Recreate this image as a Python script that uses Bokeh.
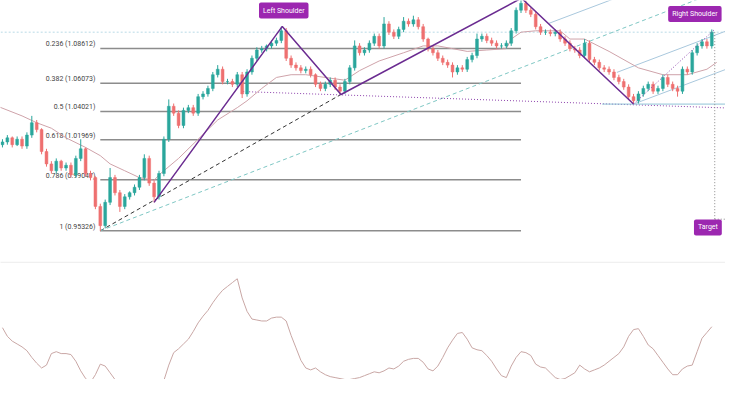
from bokeh.plotting import figure
from bokeh.models import Range1d, Label, ColumnDataSource
from bokeh.embed import file_html
from bokeh.resources import INLINE
from bokeh.core.properties import value

# ---------------- data ----------------
first_open = 1.016
close = [1.018, 1.021, 1.016, 1.020, 1.015, 1.023, 1.032, 1.027, 1.011, 1.002,
         0.997, 1.004, 0.999, 1.001, 0.994, 1.006, 1.013, 0.995, 0.992, 0.971,
         0.957, 0.974, 0.992, 0.981, 0.971, 0.978, 0.981, 0.985, 0.992, 1.006,
         0.988, 0.978, 0.995, 1.020, 1.044, 1.039, 1.030, 1.041, 1.043, 1.039,
         1.051, 1.053, 1.057, 1.067, 1.071, 1.062, 1.062, 1.060, 1.067, 1.053,
         1.069, 1.079, 1.085, 1.086, 1.088, 1.090, 1.092, 1.099, 1.079, 1.074,
         1.072, 1.070, 1.071, 1.067, 1.060, 1.057, 1.060, 1.063, 1.058, 1.055,
         1.062, 1.072, 1.088, 1.083, 1.085, 1.090, 1.095, 1.088, 1.104, 1.098,
         1.095, 1.100, 1.106, 1.104, 1.107, 1.102, 1.093, 1.086, 1.083, 1.079,
         1.076, 1.074, 1.069, 1.072, 1.071, 1.078, 1.081, 1.093, 1.095, 1.092,
         1.090, 1.088, 1.088, 1.090, 1.099, 1.114, 1.119, 1.114, 1.111, 1.102,
         1.098, 1.098, 1.097, 1.098, 1.093, 1.090, 1.086, 1.085, 1.081, 1.090,
         1.078, 1.076, 1.072, 1.071, 1.069, 1.065, 1.062, 1.058, 1.051, 1.048,
         1.053, 1.057, 1.060, 1.055, 1.057, 1.065, 1.060, 1.057, 1.055, 1.071,
         1.069, 1.083, 1.088, 1.091, 1.088, 1.098]
# wick lengths in thousandths
upper_wick = [2, 2, 1, 2, 2, 2, 5, 2, 1, 2,
              2, 2, 1, 2, 2, 2, 7, 1, 2, 1,
              2, 2, 7, 2, 2, 2, 1, 2, 2, 3,
              2, 2, 2, 2, 5, 2, 2, 2, 2, 2,
              2, 2, 2, 2, 3, 2, 2, 2, 2, 2,
              2, 2, 2, 2, 1, 2, 2, 3, 2, 2,
              2, 2, 2, 2, 1, 2, 2, 2, 2, 2,
              2, 2, 4, 2, 2, 2, 2, 2, 5, 2,
              2, 2, 3, 2, 3, 2, 2, 1, 2, 2,
              2, 2, 2, 2, 2, 2, 2, 4, 2, 2,
              2, 2, 2, 2, 2, 2, 3, 2, 2, 2,
              2, 2, 2, 2, 2, 2, 2, 2, 2, 3,
              2, 2, 2, 2, 2, 2, 2, 2, 2, 2,
              2, 2, 2, 2, 2, 2, 2, 2, 2, 2,
              2, 2, 2, 2, 2, 2]
lower_wick = [2, 2, 2, 1, 2, 2, 2, 2, 2, 2,
              2, 2, 2, 2, 2, 2, 2, 2, 2, 2,
              4, 2, 2, 2, 4, 2, 2, 2, 2, 2,
              2, 4, 2, 2, 2, 2, 2, 2, 2, 2,
              2, 2, 2, 2, 2, 2, 2, 2, 2, 3,
              2, 2, 2, 2, 2, 2, 2, 2, 2, 2,
              2, 2, 2, 2, 2, 2, 2, 2, 2, 2,
              2, 2, 2, 2, 2, 2, 2, 2, 2, 2,
              2, 2, 2, 2, 2, 2, 2, 2, 2, 2,
              2, 2, 4, 2, 2, 2, 2, 2, 2, 2,
              2, 2, 2, 2, 2, 2, 2, 2, 2, 2,
              2, 2, 2, 2, 2, 2, 2, 2, 2, 2,
              2, 2, 2, 2, 2, 2, 2, 2, 2, 2,
              2, 2, 2, 2, 2, 2, 2, 2, 4, 2,
              2, 2, 2, 2, 2, 2]

osc = [57, 52.5, 50, 48.5, 47, 45, 41.5, 38.5, 36, 37.5,
       43.5, 44.5, 43.5, 43.5, 43, 39.5, 34.5, 30.5, 28.5, 32.5,
       38, 37, 33.5, 30, 27.5, 25.5, 24.5, 24.5, 25, 25.5,
       26, 26.5, 27.5, 29.5, 37.5, 44, 46, 48.5, 51, 55,
       59.5, 63, 66, 70, 73.5, 76.5, 78.5, 80.5, 82.5, 72.5,
       65.5, 61.5, 61, 60.5, 60.5, 62, 62.5, 62.5, 60.5, 53,
       46.5, 40, 36, 35, 36, 34, 32.5, 31.5, 31, 30.5,
       30, 30, 30.5, 31, 32, 33, 34, 33.5, 34.5, 36,
       35.5, 37, 39.5, 40.5, 41, 41, 39, 35.5, 34.5, 37,
       41.5, 46.5, 50.5, 54, 54.5, 51, 46.5, 45.5, 45, 42.5,
       39.5, 35.5, 32, 31, 37, 41.5, 44.5, 44, 42.5, 38,
       36.5, 36, 33.5, 31, 30, 30.5, 32, 33.5, 37.5, 35.5,
       34, 35, 36, 37.5, 39.5, 41.5, 43.5, 47, 52.5, 56,
       56.5, 52.5, 48, 46, 42.5, 39, 35.5, 32.5, 32.5, 35.5,
       37, 37.5, 44.5, 51.5, 54.5, 57.5]

ma_x = [-1, 4, 7, 10, 13, 17, 20, 22, 25, 28, 31, 32, 36, 40, 44, 48, 50, 53, 56,
        59, 62, 66, 70, 73, 77, 82, 86, 89, 92, 95, 99, 103, 104, 106, 109, 114,
        116, 119, 124, 130, 135, 140, 144, 146]
ma_v = [1.044, 1.037, 1.032, 1.028, 1.021, 1.014, 1.008, 1.002, 0.997, 0.992,
        0.990, 0.994, 1.006, 1.020, 1.034, 1.043, 1.048, 1.057, 1.065, 1.067,
        1.067, 1.065, 1.063, 1.070, 1.077, 1.083, 1.088, 1.088, 1.086, 1.084,
        1.085, 1.086, 1.093, 1.098, 1.099, 1.099, 1.093, 1.093, 1.084, 1.072,
        1.067, 1.067, 1.071, 1.076]

fib_ratio = ["0.236", "0.382", "0.5", "0.618", "0.786", "1"]
fib_price = [1.08612, 1.06073, 1.04021, 1.01969, 0.99047, 0.95326]
fib_start, fib_end = 20, 106

# pattern points (candle index, price)
hs_x = [31, 57.2, 69.2, 106.1, 129]
hs_y = [0.974, 1.1022, 1.0526, 1.1228, 1.0456]

# ---------------- build ----------------
N = len(close)
idx = list(range(N))
open_ = [first_open] + close[:-1]
high = [max(o, c) + u / 1000 for o, c, u in zip(open_, close, upper_wick)]
low = [min(o, c) - l / 1000 for o, c, l in zip(open_, close, lower_wick)]
UP, DOWN = "#2aa69c", "#ee7070"
colors = [UP if c >= o else DOWN for o, c in zip(open_, close)]
src = ColumnDataSource(dict(x=idx, o=open_, c=close, h=high, l=low,
                            top=[max(a, b) for a, b in zip(open_, close)],
                            bot=[min(a, b) for a, b in zip(open_, close)],
                            col=colors))

p = figure(width=725, height=379, output_backend="svg", toolbar_location=None,
           x_range=Range1d(-0.4, 147.8), y_range=Range1d(0.84487, 1.12109),
           x_axis_location=None, y_axis_location=None, min_border=0,
           outline_line_color=None, background_fill_color="white")
p.grid.visible = False
p.extra_y_ranges = {"osc": Range1d(30, 227.5)}

# separator between panes
p.line([-2, 150], [0.9303, 0.9303], line_color="#ececec", line_width=1)

# light horizontal reference line
p.line([-2, 150], [1.098, 1.098], line_color="#b9dbe6", line_width=1, line_dash="2 2")

# fibonacci levels
for r, lv in zip(fib_ratio, fib_price):
    p.line([fib_start, fib_end], [lv, lv], line_color="#8c8c8c", line_width=1.5)
p.text(x=[19] * len(fib_price), y=fib_price,
       text=[f"{r} ({v:.5f})" for r, v in zip(fib_ratio, fib_price)],
       text_align="right", text_baseline="bottom", text_font_size="7px",
       text_color="#444444", text_font=value("Roboto"))

# trend lines
p.line([20, 69.2], [0.95326, 1.0526], line_color="#333333", line_width=1, line_dash="4 3")
p.line([20, 147.8], [0.95326, 1.1298], line_color="#7fc7c4", line_width=1, line_dash="4 3")
p.line([49.2, 147.8], [1.0547, 1.0428], line_color="#8e44ad", line_width=1, line_dash="1 2")
p.line([122.6, 148], [1.0456, 1.0456], line_color="#8fc3d6", line_width=1)
p.line([111.6, 124.6], [1.1043, 1.1218], line_color="#a9c8dd", line_width=1)
p.line([125.6, 147.8], [1.0687, 1.0987], line_color="#a9c8dd", line_width=1)
p.line([129, 147.8], [1.0456, 1.0708], line_color="#a9c8dd", line_width=1)

# moving average
p.line(ma_x, ma_v, line_color="#cfa3aa", line_width=1)

# candles
p.segment(x0="x", y0="h", x1="x", y1="l", color="col", line_width=1, source=src)
p.vbar(x="x", width=0.58, top="top", bottom="bot", fill_color="col",
       line_color="col", line_width=0.5, source=src)

# head & shoulders
p.line(hs_x, hs_y, line_color="#6b2c91", line_width=1.5)
p.line([129, 145.6], [1.0456, 1.1001], line_color="#8e44ad", line_width=1, line_dash="1 2")
p.line([145.6, 145.6], [1.098, 0.9617], line_color="#8a8a8a", line_width=1, line_dash="1 2")
p.line([145.6, 148], [0.9617, 0.9617], line_color="#8a8a8a", line_width=1, line_dash="1 2")

# oscillator
p.line(idx, osc, y_range_name="osc", line_color="#c9a7a5", line_width=1)

# labels
lab = dict(text_color="white", text_font_size="7px", text_font="Roboto",
           background_fill_color="#9c27b0", text_baseline="middle", padding=4,
           border_radius=2)
p.add_layout(Label(x=57.5, y=1.1138, text="Left Shoulder", text_align="center", **lab))
p.add_layout(Label(x=147.0, y=1.1113, text="Right Shoulder", text_align="right", **lab))
p.add_layout(Label(x=144.2, y=0.9557, text="Target", text_align="center", **lab))

open("out.html", "w").write(file_html(p, INLINE))
